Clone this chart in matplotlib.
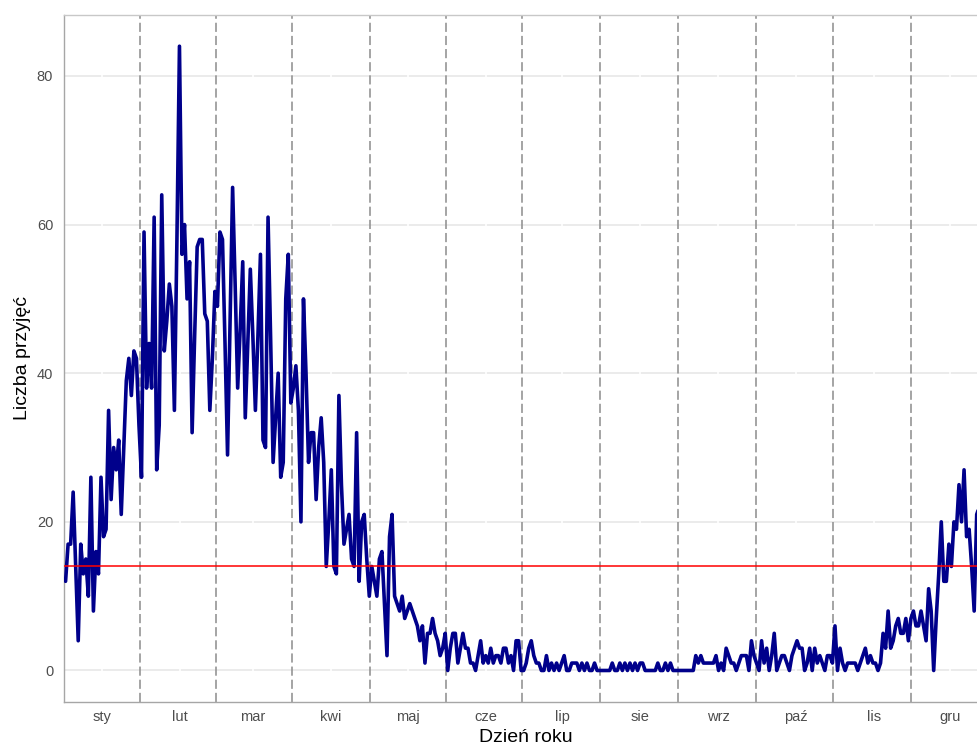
import numpy as np
import matplotlib
matplotlib.use("Agg")
import matplotlib.pyplot as plt

plt.rcParams['font.family'] = ['Liberation Sans', 'DejaVu Sans']

# Daily admissions, one list per calendar month
jan = [12, 17, 17, 24, 14, 4, 17, 13, 15, 10, 26, 8, 16, 13, 26, 18, 19, 35, 23, 30,
       27, 31, 21, 30, 39, 42, 37, 43, 42, 33, 26]
feb = [59, 38, 44, 38, 61, 27, 33, 64, 43, 47, 52, 49, 35, 58, 84, 56, 60, 50, 55, 32,
       45, 57, 58, 58, 48, 47, 35, 42]
mar = [51, 49, 59, 58, 44, 29, 47, 65, 52, 38, 46, 55, 34, 44, 54, 45, 35, 45, 56, 31,
       30, 61, 45, 28, 34, 40, 26, 28, 50, 56, 36]
apr = [38, 41, 35, 20, 50, 40, 28, 32, 32, 23, 30, 34, 28, 14, 20, 27, 14, 13, 37, 25,
       17, 19, 21, 15, 14, 32, 12, 20, 21, 15]
may = [10, 14, 12, 10, 15, 16, 9, 2, 18, 21, 10, 9, 8, 10, 7, 8, 9, 8, 7, 6,
       4, 6, 1, 5, 5, 7, 5, 4, 2, 3, 5]
jun = [0, 3, 5, 5, 1, 3, 5, 3, 3, 1, 1, 0, 2, 4, 1, 2, 1, 3, 1, 2,
       2, 1, 3, 3, 1, 2, 0, 4, 4, 0]
jul = [0, 1, 3, 4, 2, 1, 1, 0, 0, 2, 0, 1, 0, 1, 0, 1, 2, 0, 0, 1,
       1, 1, 0, 1, 0, 1, 0, 0, 1, 0, 0]
aug = [0, 0, 0, 0, 1, 0, 0, 1, 0, 1, 0, 1, 0, 1, 0, 1, 1, 0, 0, 0,
       0, 0, 1, 0, 0, 1, 0, 1, 0, 0, 0]
sep = [0, 0, 0, 0, 0, 0, 2, 1, 2, 1, 1, 1, 1, 1, 2, 0, 1, 0, 3, 2,
       1, 1, 0, 1, 2, 2, 2, 0, 4, 2]
oct_ = [1, 0, 4, 1, 3, 0, 2, 5, 0, 1, 2, 2, 1, 0, 2, 3, 4, 3, 3, 0,
        1, 3, 0, 3, 1, 2, 1, 0, 2, 2, 1]
nov = [6, 0, 3, 1, 0, 1, 1, 1, 1, 0, 1, 2, 3, 1, 2, 1, 1, 0, 1, 5,
       3, 8, 3, 4, 6, 7, 5, 5, 7, 4]
dec = [7, 8, 6, 6, 8, 6, 4, 11, 8, 0, 7, 13, 20, 12, 12, 17, 14, 20, 19, 25,
       20, 27, 18, 19, 14, 8, 21, 22, 18, 16, 15]

month_labels = ["sty", "lut", "mar", "kwi", "maj", "cze",
                "lip", "sie", "wrz", "paź", "lis", "gru"]
# day-of-year positions of the month separators and of the month labels
month_breaks = [30.6, 60.6, 90.5, 121.1, 151.3, 181.3, 212.2, 243.0, 273.8, 304.3, 334.9]
label_pos = [15.4, 46.2, 75.1, 105.9, 136.2, 167.2, 197.2, 228.1, 258.9, 289.5, 320.3, 350.3]
threshold = 14
y_ticks = [0, 20, 40, 60, 80]

counts = np.array(jan + feb + mar + apr + may + jun + jul + aug + sep + oct_ + nov + dec)
days = np.arange(1, len(counts) + 1)

W, H = 977, 746
fig = plt.figure(figsize=(W / 100, H / 100), dpi=100)
fig.patch.set_facecolor("white")

# panel in pixel coordinates (right edge runs past the canvas)
left_px, right_px, top_px, bottom_px = 64.3, 988.1, 15.0, 701.7
ax = fig.add_axes([left_px / W, (H - bottom_px) / H,
                   (right_px - left_px) / W, (bottom_px - top_px) / H])
ax.set_facecolor("white")

ax.set_xlim(0.5, 365.5)
ax.set_ylim(-4.2, 88.2)

# horizontal grid
for yv in y_ticks:
    ax.axhline(yv, color="#E6E6E6", lw=1.1, zorder=0)
# thin white breaks at label positions
for xm in label_pos:
    ax.axvline(xm, color="white", lw=1.2, zorder=0.5)

# month separators
for xb in month_breaks:
    ax.axvline(xb, color="#8C8C8C", lw=1.1, linestyle=(0, (6.0, 2.6)), zorder=1)

ax.plot(days, counts, color="#00008B", lw=2.6, solid_joinstyle="round",
        solid_capstyle="round", zorder=3)
ax.axhline(threshold, color="#FF0000", lw=1.1, zorder=4)

ax.set_xticks(label_pos)
ax.set_xticklabels(month_labels)
ax.set_yticks(y_ticks)
ax.tick_params(axis="both", length=0, labelsize=10.5, labelcolor="#4D4D4D")
ax.tick_params(axis="x", pad=6)
ax.tick_params(axis="y", pad=8)

for side in ["left", "bottom"]:
    ax.spines[side].set_color("#A6A6A6")
    ax.spines[side].set_linewidth(1.0)
ax.spines["top"].set_color("#C8C8C8")
ax.spines["top"].set_linewidth(1.0)
ax.spines["right"].set_visible(False)

ax.set_xlabel("Dzień roku", fontsize=14, color="black", labelpad=3.5)
ax.set_ylabel("Liczba przyjęć", fontsize=14, color="black", labelpad=4)

fig.savefig("out.png", dpi=100, facecolor="white")
